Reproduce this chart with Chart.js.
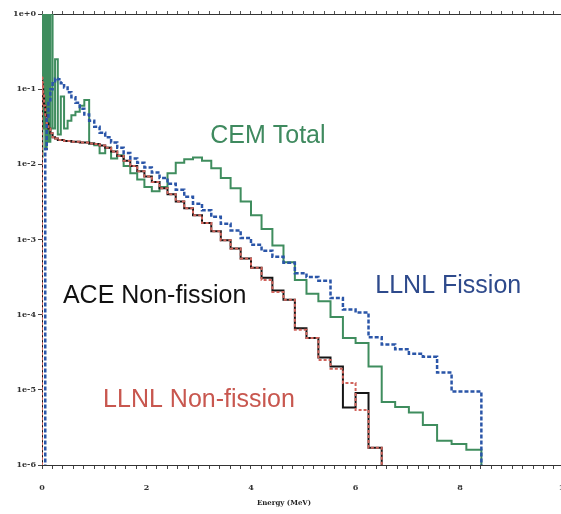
<!DOCTYPE html>
<html>
<head>
<meta charset="utf-8">
<script src="https://cdn.jsdelivr.net/npm/chart.js@4.4.1/dist/chart.umd.min.js"></script>
<style>
  html, body { margin: 0; padding: 0; background: #fff; overflow: hidden; }
  #wrap { width: 584px; height: 514px; }
</style>
</head>
<body>
<div id="wrap"><canvas id="spectrum" width="584" height="514"></canvas></div>
<script>
// bin edges (MeV), shared by all four histograms
var edges = [0, 0.0025, 0.01, 0.0225, 0.04, 0.0625, 0.09, 0.1225, 0.16, 0.2025,
  0.25, 0.3025, 0.36, 0.4225, 0.49, 0.5625, 0.64, 0.7225, 0.81, 0.9025,
  1.0, 1.1025, 1.21, 1.3225, 1.44, 1.5625, 1.69, 1.8225, 1.96, 2.1025,
  2.25, 2.4025, 2.56, 2.7225, 2.89, 3.0625, 3.24, 3.4225, 3.61, 3.8025,
  4.0, 4.2025, 4.41, 4.6225, 4.84, 5.0625, 5.29, 5.5225, 5.76, 6.0025,
  6.25, 6.5025, 6.76, 7.0225, 7.29, 7.5625, 7.84, 8.1225, 8.41];

var cemTotal = [1.5, 0.0126, 3, 0.03, 2, 0.016, 1.5, 0.02, 1.2, 0.03,
  0.25, 0.025, 0.08, 0.03, 0.038, 0.045, 0.05, 0.06, 0.072, 0.019,
  0.018, 0.014, 0.0166, 0.012, 0.0132, 0.0095, 0.0076, 0.0063, 0.005, 0.0044,
  0.005, 0.0076, 0.0105, 0.0117, 0.0123, 0.0112, 0.0089, 0.0066, 0.0048, 0.0032,
  0.0021, 0.00138, 0.00083, 0.0005, 0.00029, 0.00019, 0.000151, 0.000093, 0.000049, 0.000042,
  0.0000204, 0.0000069, 0.0000059, 0.000005, 0.0000034, 0.0000021, 0.0000019, 0.0000016];

var llnlFission = [1e-8, 1e-8, 1e-8, 1e-8, 1e-8, 0.016, 0.04, 0.071, 0.10, 0.12,
  0.138, 0.135, 0.12, 0.105, 0.091, 0.078, 0.066, 0.055, 0.046, 0.038,
  0.0316, 0.0263, 0.0229, 0.0195, 0.0166, 0.0141, 0.012, 0.0105, 0.0091, 0.0078,
  0.0066, 0.0055, 0.0046, 0.0037, 0.003, 0.00245, 0.002, 0.00162, 0.00132, 0.00105,
  0.00085, 0.00071, 0.00059, 0.00049, 0.000355, 0.000316, 0.000282, 0.000166, 0.000117, 0.000107,
  0.00005, 0.00004, 0.0000347, 0.0000302, 0.0000275, 0.000017, 0.0000095, 0.0000095];

var aceNonFission = [0.13, 0.12, 0.1, 0.08, 0.06, 0.045, 0.035, 0.03, 0.026, 0.023,
  0.022, 0.021, 0.021, 0.0204, 0.0204, 0.02, 0.02, 0.0195, 0.0195, 0.019,
  0.0186, 0.0178, 0.0166, 0.0148, 0.0129, 0.0112, 0.0095, 0.0081, 0.0069, 0.0058,
  0.0048, 0.004, 0.0032, 0.0026, 0.0021, 0.00166, 0.00129, 0.00098, 0.00076, 0.00056,
  0.00042, 0.00031, 0.00021, 0.000158, 0.000066, 0.000049, 0.000027, 0.0000204, 0.0000058, 0.0000091,
  0.0000017];

var llnlNonFission = [0.15, 0.14, 0.12, 0.09, 0.06, 0.045, 0.035, 0.03, 0.026, 0.023,
  0.022, 0.021, 0.021, 0.0204, 0.0204, 0.02, 0.02, 0.0195, 0.0195, 0.019,
  0.0186, 0.0178, 0.0166, 0.0148, 0.0129, 0.0112, 0.0095, 0.0081, 0.0069, 0.0058,
  0.0048, 0.004, 0.0032, 0.0026, 0.0021, 0.00166, 0.00129, 0.00098, 0.00076, 0.00056,
  0.00042, 0.00029, 0.0002, 0.000158, 0.000063, 0.000049, 0.000025, 0.0000191, 0.0000123, 0.0000054,
  0.0000017];

var yTicks = [1e-6, 1e-5, 1e-4, 1e-3, 1e-2, 1e-1, 1];
var yTickLabels = ['1e-6', '1e-5', '1e-4', '1e-3', '1e-2', '1e-1', '1e+0'];

var FLOOR = 1e-8;

// turn bin values into a closed step outline
function histogram(vals) {
  var pts = [{ x: edges[0], y: FLOOR }];
  vals.forEach(function (v, i) { pts.push({ x: edges[i], y: v }); });
  var end = edges[vals.length];
  pts.push({ x: end, y: vals[vals.length - 1] });
  pts.push({ x: end, y: FLOOR });
  return pts;
}

var notes = [
  { text: 'CEM Total', e: 3.22, v: 0.0193, color: '#3f8a5f' },
  { text: 'LLNL Fission', e: 6.38, v: 1.95e-4, color: '#2e4a8c' },
  { text: 'ACE Non-fission', e: 0.40, v: 1.44e-4, color: '#111111' },
  { text: 'LLNL Non-fission', e: 1.17, v: 5.9e-6, color: '#c8574f' }
];

var labelPlugin = {
  id: 'labels',
  afterDraw: function (chart) {
    var ctx = chart.ctx, xs = chart.scales.x, ys = chart.scales.y;
    ctx.save();
    ctx.font = '25px "Liberation Sans", Arial, sans-serif';
    ctx.textBaseline = 'alphabetic';
    ctx.textAlign = 'left';
    notes.forEach(function (n) {
      ctx.fillStyle = n.color;
      ctx.fillText(n.text, xs.getPixelForValue(n.e), ys.getPixelForValue(n.v));
    });
    ctx.font = 'bold 7px "DejaVu Serif", serif';
    ctx.fillStyle = '#222';
    ctx.textAlign = 'center';
    ctx.fillText('Energy (MeV)', 284, 505);
    ctx.restore();
  }
};

var tickFont = { size: 8, weight: 'bold', family: '"DejaVu Serif", serif' };

var ctx = document.getElementById('spectrum').getContext('2d');
var chart = new Chart(ctx, {
  type: 'line',
  data: {
    datasets: [{
      label: 'CEM Total',
      data: histogram(cemTotal),
      borderColor: '#3f8d5e',
      borderWidth: 2,
      order: 4
    }, {
      label: 'ACE Non-fission',
      data: histogram(aceNonFission),
      borderColor: '#151515',
      borderWidth: 2,
      order: 3
    }, {
      label: 'LLNL Non-fission',
      data: histogram(llnlNonFission),
      borderColor: '#d0645c',
      borderWidth: 2,
      borderDash: [3, 2],
      order: 2
    }, {
      label: 'LLNL Fission',
      data: histogram(llnlFission),
      borderColor: '#2a55a8',
      borderWidth: 2.5,
      borderDash: [4, 2],
      order: 1
    }]
  },
  options: {
    responsive: false,
    animation: false,
    devicePixelRatio: 1,
    layout: { padding: { left: 0, top: 14, right: 0, bottom: 0 } },
    elements: {
      line: { stepped: true, fill: false, tension: 0 },
      point: { radius: 0 }
    },
    plugins: {
      legend: { display: false },
      tooltip: { enabled: false }
    },
    scales: {
      x: {
        type: 'linear',
        min: 0,
        max: 10,
        ticks: {
          stepSize: 0.2,
          autoSkip: false,
          maxRotation: 0,
          padding: 14,
          color: '#333',
          font: tickFont,
          callback: function (v) {
            var r = Math.round(v);
            return (Math.abs(v - r) < 1e-6 && r % 2 === 0) ? String(r) : '';
          }
        },
        grid: { drawOnChartArea: false, tickLength: 4, color: '#444' },
        border: { color: '#333', width: 1 },
        afterFit: function (s) { s.height = 49; }
      },
      x2: {
        type: 'linear',
        position: 'top',
        min: 0,
        max: 10,
        ticks: { display: false, stepSize: 0.2, autoSkip: false },
        grid: { drawOnChartArea: false, tickLength: 3, color: '#555' },
        border: { color: '#333', width: 1 },
        afterFit: function (s) { s.height = 0; }
      },
      y: {
        type: 'logarithmic',
        min: 1e-6,
        max: 1,
        afterBuildTicks: function (s) {
          s.ticks = yTicks.map(function (v) { return { value: v }; });
        },
        ticks: {
          padding: 2,
          color: '#333',
          font: tickFont,
          callback: function (v) {
            var i = yTicks.findIndex(function (t) { return Math.abs(Math.log10(t) - Math.log10(v)) < 1e-6; });
            return i >= 0 ? yTickLabels[i] : '';
          }
        },
        grid: { drawOnChartArea: false, tickLength: 4, color: '#444' },
        border: { color: '#333', width: 1 },
        afterFit: function (s) { s.width = 42; }
      }
    }
  },
  plugins: [labelPlugin]
});
</script>
</body>
</html>
